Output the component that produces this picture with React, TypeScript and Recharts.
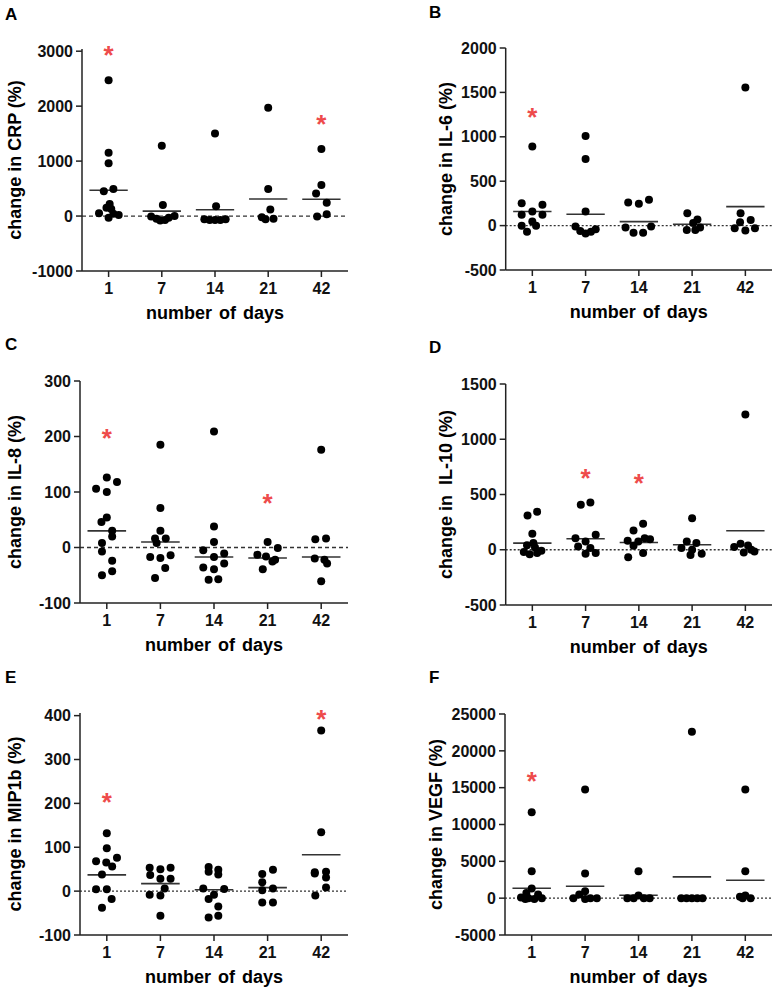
import { ScatterChart, Scatter, XAxis, YAxis, ReferenceLine } from 'recharts';

const FONT = '"Liberation Sans", Arial, sans-serif';
const DAYS = ['1', '7', '14', '21', '42'];
const X_TICKS = [0.5, 1.5, 2.5, 3.5, 4.5];

// A: CRP
const crpPoints = [
  [2470, 1150, 960, 450, 490, 220, 150, 130, 50, 40, 20, -30],
  [1280, 200, -10, -50, -80, -70, -30, 0],
  [1500, 180, -60, -70, -70, -70, -60],
  [1970, 490, 120, -20, -60, -50],
  [1220, 565, 410, 240, -10, 35],
];
const crpSpread = [
  [0, 0, 0, -0.09, 0.09, 0.02, -0.04, 0.05, -0.18, 0.09, 0.19, 0],
  [0, 0.02, -0.2, -0.1, -0.03, 0.06, 0.13, 0.24],
  [0, 0.02, -0.2, -0.1, 0, 0.1, 0.2],
  [0, 0, 0.04, -0.12, -0.05, 0.1],
  [0, 0, -0.1, 0.1, -0.08, 0.1],
];
const crpMeans = [470, 90, 114, 310, 305];
const crpStars = [{ day: 0, value: 3040 }, { day: 4, value: 1780 }];

// B: IL-6
const il6Points = [
  [890, 253, 234, 158, 121, 121, 45, -3, -3, -68],
  [1010, 750, 160, -10, -60, -90, -70, -40],
  [260, 245, 290, -20, -80, -80, -10],
  [140, 70, 30, -50, -50, -20],
  [1556, 140, 64, 37, -30, -56, -30],
];
const il6Spread = [
  [0, -0.2, 0.19, 0, -0.2, 0.19, 0, -0.2, 0.07, -0.1],
  [0, 0, 0, -0.19, -0.1, 0, 0.1, 0.19],
  [-0.2, 0, 0.19, -0.25, -0.1, 0.08, 0.23],
  [-0.09, 0.1, 0.02, -0.1, 0.06, 0.15],
  [0, -0.09, 0.1, -0.1, -0.2, 0, 0.18],
];
const il6Means = [158, 128, 45, 15, 214];
const il6Stars = [{ day: 0, value: 1293 }];

// C: IL-8
const il8Points = [
  [106, 126, 118, 100, 54, 46, 30, 20, 8, -7, -24, -50, -43],
  [185, 71, 30, 16, 16, 8, -17, -19, -14, -37, -55],
  [209, 38, 10, -5, -11, -17, -36, -39, -29, -58, -57],
  [10, -1, -13, -16, -25, -39, -22],
  [176, 15, 16, -20, -22, -29, -61],
];
const il8Spread = [
  [-0.2, 0, 0.19, 0, 0, -0.1, 0.1, 0.1, -0.09, -0.09, 0.1, -0.09, 0.1],
  [0, 0, 0, -0.1, 0.1, -0.07, -0.19, 0, 0.19, 0.09, -0.1],
  [0, 0, 0, -0.2, 0.19, 0, -0.2, 0, 0.19, -0.1, 0.08],
  [0, 0.19, -0.19, -0.03, 0.09, -0.09, 0.14],
  [0, -0.11, 0.09, -0.12, 0.06, 0.11, 0],
];
const il8Means = [30, 10, -17, -19, -17];
const il8Stars = [{ day: 0, value: 208 }, { day: 3, value: 91 }];

// D: IL-10
const il10Points = [
  [310, 345, 145, 60, 40, 20, -10, -20, -40, -30],
  [407, 428, 136, 105, 75, 30, 15, -36, -30],
  [235, 175, 105, 81, 75, 36, 96, -69, -30],
  [286, 75, 60, 15, 0, -36, -48],
  [1223, 24, 54, 39, 0, -24, -15],
];
const il10Spread = [
  [-0.09, 0.09, 0, 0.02, -0.1, 0.05, 0.17, -0.16, -0.05, 0.09],
  [-0.09, 0.09, 0.19, -0.19, 0, -0.14, 0.09, 0, 0.19],
  [0.08, -0.1, 0.11, -0.21, -0.01, -0.1, 0.21, -0.2, 0.08],
  [0, -0.1, 0.08, -0.2, 0, 0.18, -0.03],
  [0, -0.21, -0.09, 0.05, 0.11, -0.03, 0.17],
];
const il10Means = [60, 99, 66, 45, 172];
const il10Stars = [{ day: 1, value: 708 }, { day: 2, value: 654 }];

// E: MIP1b
const mipPoints = [
  [132, 98, 68, 65, 76, 56, 38, 4, 4, -18, -38],
  [53, 50, 53, 37, 28, 28, 6, -8, -10, -56],
  [55, 49, 44, 38, 6, -8, -18, 5, -35, -60, -56],
  [49, 39, 20, 2, 6, -26, -26],
  [366, 134, 40, 44, 31, 43, 8, -10],
];
const mipSpread = [
  [0, 0, -0.2, -0.01, 0.19, 0.1, -0.09, -0.2, 0, 0.09, -0.09],
  [-0.2, 0, 0.19, -0.19, 0, 0.19, 0.08, -0.2, 0, 0],
  [-0.1, 0.08, -0.1, 0.08, -0.2, 0, -0.1, 0.19, 0.08, -0.1, 0.08],
  [0.1, -0.1, -0.1, -0.1, 0.1, -0.1, 0.1],
  [0, 0, -0.12, 0.09, 0.09, -0.12, 0.09, -0.11],
];
const mipMeans = [37, 17, 3, 8, 83];
const mipStars = [{ day: 0, value: 216 }, { day: 4, value: 406 }];

// F: VEGF
const vegfPoints = [
  [11650, 3650, 1300, 700, 500, 100, 0, -100, 0, -100],
  [14760, 3340, 950, 500, 0, -100, 0, 0],
  [3650, 360, 0, 0, 0, 0],
  [22600, 0, 0, 0, 0, 0],
  [14760, 3650, 180, 360, 0, 0],
];
const vegfSpread = [
  [0, 0, 0, -0.1, 0.12, -0.2, -0.06, 0.05, 0.19, -0.12],
  [0, 0, 0, -0.11, -0.22, 0, 0.1, 0.22],
  [0, 0, -0.21, -0.09, 0.1, 0.21],
  [0, -0.2, -0.1, 0, 0.1, 0.2],
  [0, 0, -0.1, 0, 0.1, -0.05],
];
const vegfMeans = [1350, 1625, 400, 2890, 2440];
const vegfStars = [{ day: 0, value: 16700 }];

type Margin = { top: number; right: number; bottom: number; left: number };

type PanelProps = {
  letter: string;
  letterPos: [number, number];
  yTitle: string;
  titleX: number;
  points: number[][];
  spread: number[][];
  means: number[];
  stars: { day: number; value: number }[];
  ticks: number[];
  dash: string;
  left: number;
  top: number;
  margin: Margin;
};

const W = 389;
const H = 330;
const Y_W = 60;
const X_H = 30;

function Panel(p: PanelProps) {
  const dots = p.points.flatMap((vals, i) =>
    vals.map((v, j) => ({ x: i + 0.5 + p.spread[i][j], y: v }))
  );
  const starData = p.stars.map((s) => ({ x: s.day + 0.5, y: s.value }));
  const plotLeft = p.margin.left + Y_W;
  const plotRight = W - p.margin.right;
  const plotBottom = H - p.margin.bottom - X_H;
  const midY = (p.margin.top + plotBottom) / 2;
  const midX = (plotLeft + plotRight) / 2;
  const domain = [p.ticks[0], p.ticks[p.ticks.length - 1]];
  const tickStyle = { fill: '#111', fontSize: 16, fontWeight: 700, fontFamily: FONT };
  return (
    <div style={{ position: 'absolute', left: p.left, top: p.top, width: W, height: H }}>
      <ScatterChart width={W} height={H} margin={p.margin}>
        <XAxis
          type="number"
          dataKey="x"
          domain={[0, 5]}
          ticks={X_TICKS}
          interval={0}
          tickFormatter={(v: number) => DAYS[Math.floor(v)]}
          height={X_H}
          tickSize={6}
          tickMargin={6}
          stroke="#222"
          strokeWidth={1.5}
          tick={tickStyle}
        />
        <YAxis
          type="number"
          dataKey="y"
          domain={domain}
          ticks={p.ticks}
          interval={0}
          width={Y_W}
          tickSize={6}
          tickMargin={3}
          stroke="#222"
          strokeWidth={1.5}
          tick={tickStyle}
        />
        <ReferenceLine y={0} stroke="#333" strokeWidth={1.3} strokeDasharray={p.dash} />
        {p.means.map((m, i) => (
          <ReferenceLine
            key={i}
            segment={[{ x: i + 0.14, y: m }, { x: i + 0.86, y: m }]}
            stroke="#333"
            strokeWidth={1.6}
          />
        ))}
        <Scatter
          data={dots}
          isAnimationActive={false}
          shape={(s: any) => <circle cx={s.cx} cy={s.cy} r={4} fill="#000" />}
        />
        <Scatter
          data={starData}
          isAnimationActive={false}
          shape={(s: any) => (
            <text
              x={s.cx}
              y={s.cy + 15}
              textAnchor="middle"
              fontSize={26}
              fontWeight={700}
              fill="#ee4b4b"
              fontFamily={FONT}
            >
              *
            </text>
          )}
        />
      </ScatterChart>
      <svg width={W} height={H} style={{ position: 'absolute', left: 0, top: 0, pointerEvents: 'none' }}>
        <text
          x={p.letterPos[0]}
          y={p.letterPos[1]}
          fontSize={17}
          fontWeight={700}
          fontFamily={FONT}
          fill="#000"
        >
          {p.letter}
        </text>
        <text
          x={p.titleX}
          y={midY}
          transform={`rotate(-90 ${p.titleX} ${midY})`}
          textAnchor="middle"
          dominantBaseline="central"
          fontSize={18}
          fontWeight={700}
          fontFamily={FONT}
          fill="#000"
          style={{ whiteSpace: 'pre' }}
        >
          {p.yTitle}
        </text>
        <text
          x={midX}
          y={plotBottom + 48}
          textAnchor="middle"
          fontSize={18}
          fontWeight={700}
          fontFamily={FONT}
          fill="#000"
          style={{ whiteSpace: 'pre', wordSpacing: 2 }}
        >
          number of days
        </text>
      </svg>
    </div>
  );
}

export default function App() {
  return (
    <div style={{ position: 'absolute', left: 0, top: 0, width: 778, height: 993, background: '#fff' }}>
      <Panel
        letter="A" letterPos={[5, 20]} yTitle="change in CRP (%)" titleX={15}
        points={crpPoints} spread={crpSpread} means={crpMeans} stars={crpStars}
        ticks={[-1000, 0, 1000, 2000, 3000]} dash="4 3"
        left={0} top={0} margin={{ top: 49, right: 41, bottom: 29, left: 22 }}
      />
      <Panel
        letter="B" letterPos={[40, 18]} yTitle="change in IL-6 (%)" titleX={57}
        points={il6Points} spread={il6Spread} means={il6Means} stars={il6Stars}
        ticks={[-500, 0, 500, 1000, 1500, 2000]} dash="2 2"
        left={389} top={0} margin={{ top: 48, right: 6, bottom: 30, left: 56.7 }}
      />
      <Panel
        letter="C" letterPos={[5, 20]} yTitle="change in IL-8 (%)" titleX={15}
        points={il8Points} spread={il8Spread} means={il8Means} stars={il8Stars}
        ticks={[-100, 0, 100, 200, 300]} dash="4 3"
        left={0} top={330} margin={{ top: 51, right: 41, bottom: 27, left: 20 }}
      />
      <Panel
        letter="D" letterPos={[40, 23]} yTitle="change in  IL-10 (%)" titleX={57}
        points={il10Points} spread={il10Spread} means={il10Means} stars={il10Stars}
        ticks={[-500, 0, 500, 1000, 1500]} dash="2 2"
        left={389} top={330} margin={{ top: 54, right: 6, bottom: 25, left: 56.7 }}
      />
      <Panel
        letter="E" letterPos={[5, 23]} yTitle="change in MIP1b (%)" titleX={15}
        points={mipPoints} spread={mipSpread} means={mipMeans} stars={mipStars}
        ticks={[-100, 0, 100, 200, 300, 400]} dash="2 2"
        left={0} top={660} margin={{ top: 53, right: 41, bottom: 25, left: 20 }}
      />
      <Panel
        letter="F" letterPos={[40, 23]} yTitle="change in VEGF (%)" titleX={47}
        points={vegfPoints} spread={vegfSpread} means={vegfMeans} stars={vegfStars}
        ticks={[-5000, 0, 5000, 10000, 15000, 20000, 25000]} dash="2 2"
        left={389} top={660} margin={{ top: 54, right: 6, bottom: 25, left: 56 }}
      />
    </div>
  );
}
